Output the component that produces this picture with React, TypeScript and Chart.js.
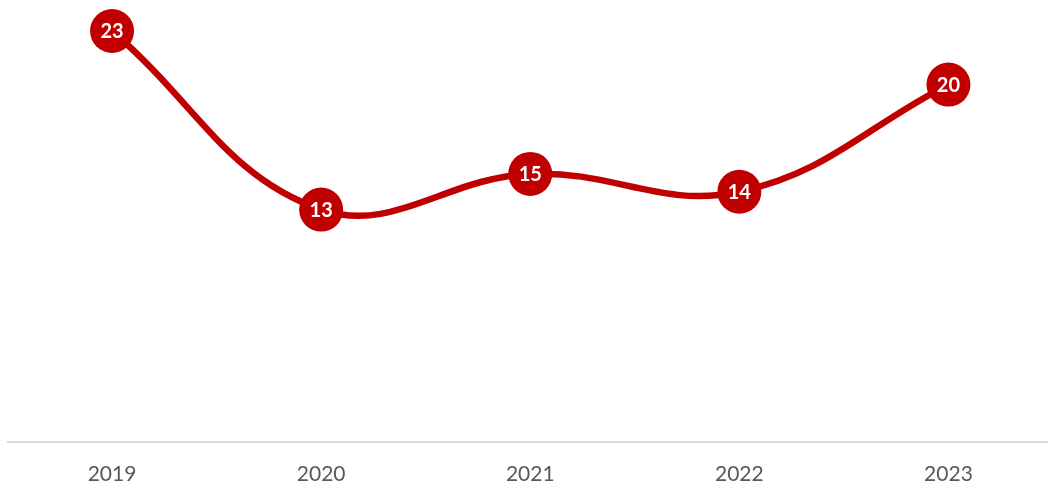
import React, { useEffect, useRef } from "react";
import { Chart, registerables } from "chart.js";

Chart.register(...registerables);

const years = ["2019", "2020", "2021", "2022", "2023"];
const values = [23, 13, 15, 14, 20];

const RED = "#C00000";

const labelPlugin = {
  id: "pointLabels",
  afterDatasetsDraw(chart: any) {
    const ctx = chart.ctx;
    const meta = chart.getDatasetMeta(0);
    ctx.save();
    ctx.fillStyle = "#FFFFFF";
    ctx.font = "bold 20px Lato";
    ctx.textAlign = "center";
    ctx.textBaseline = "middle";
    meta.data.forEach((pt: any, i: number) => {
      ctx.fillText(String(values[i]), pt.x, pt.y + 1);
    });
    ctx.restore();
  },
};

export default function App() {
  const ref = useRef<HTMLCanvasElement>(null);
  useEffect(() => {
    if (!ref.current) return;
    const chart = new Chart(ref.current, {
      type: "line",
      data: {
        labels: years,
        datasets: [
          {
            data: values,
            borderColor: RED,
            backgroundColor: RED,
            borderWidth: 6.5,
            tension: 0.4,
            pointRadius: 22,
            pointHoverRadius: 22,
            pointBorderWidth: 0,
            pointBackgroundColor: RED,
            clip: false as any,
          },
        ],
      },
      options: {
        animation: false,
        responsive: false,
        maintainAspectRatio: false,
        layout: { autoPadding: false, padding: { top: 31, left: 7.5, right: 0, bottom: -24 } },
        plugins: { legend: { display: false }, tooltip: { enabled: false } },
        scales: {
          x: {
            offset: true,
            grid: { display: false, drawTicks: false },
            border: { display: true, color: "#D9D9D9", width: 2 },
            ticks: {
              color: "#595959",
              font: { family: "Lato", size: 21 },
              padding: 20,
            },
          },
          y: {
            display: false,
            min: 0,
            max: 23,
          },
        },
      },
      plugins: [labelPlugin],
    });
    return () => chart.destroy();
  }, []);
  return (
    <div style={{ position: "absolute", left: 0, top: 0, width: 1048, height: 483, background: "#fff", overflow: "hidden" }}>
      <canvas ref={ref} width={1053} height={483} style={{ width: 1053, height: 483, display: "block" }} />
    </div>
  );
}
